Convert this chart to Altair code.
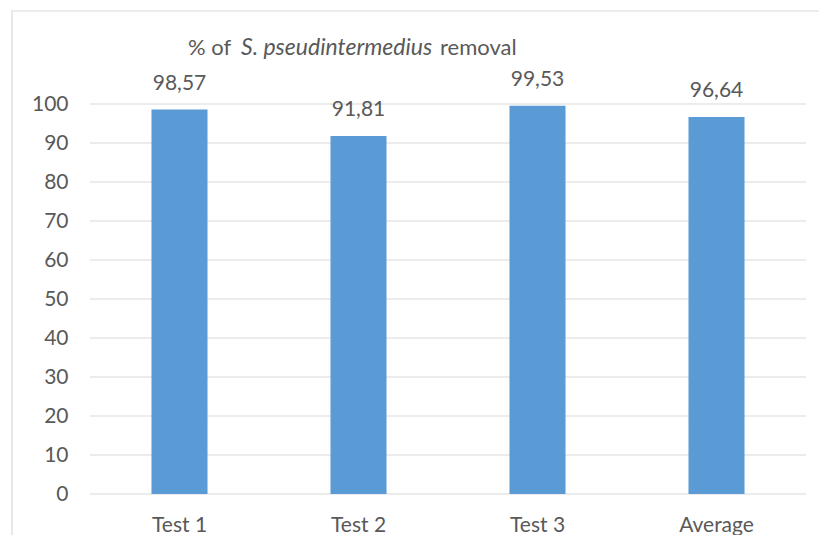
import altair as alt
import pandas as pd

categories = ["Test 1", "Test 2", "Test 3", "Average"]
values = [98.57, 91.81, 99.53, 96.64]
labels = ["98,57", "91,81", "99,53", "96,64"]
y_ticks = [0, 10, 20, 30, 40, 50, 60, 70, 80, 90, 100]

title_parts = ["% of", "S. pseudintermedius", "removal"]

FONT = "Lato"
FS = 21
TFS = 22
TXT = "#595959"
GRID = "#D9D9D9"
BAR = "#5B9BD5"

df = pd.DataFrame({"cat": categories, "val": values, "lab": labels})
grid_df = pd.DataFrame({"val": y_ticks})

y_scale = alt.Scale(domain=[0, 100], nice=False, zero=True)

x_enc = alt.X("cat:N", sort=categories, title=None,
              scale=alt.Scale(paddingInner=0.687, paddingOuter=0.3435),
              axis=alt.Axis(labelAngle=0, domain=False, ticks=False, grid=False,
                            labelPadding=20, labelFontSize=FS, labelFont=FONT,
                            labelColor=TXT))

grid = alt.Chart(grid_df).mark_rule(color=GRID, strokeWidth=1).encode(
    y=alt.Y("val:Q", title=None, scale=y_scale,
            axis=alt.Axis(values=y_ticks, domain=False, ticks=False, grid=False,
                          labelPadding=22, labelOverlap=False,
                          labelFontSize=FS, labelFont=FONT, labelColor=TXT)))

base = alt.Chart(df).encode(x=x_enc, y=alt.Y("val:Q", scale=y_scale, axis=None))
bars = base.mark_bar(color=BAR)
text = base.mark_text(baseline="alphabetic", dy=-20, fontSize=FS, font=FONT,
                      color=TXT).encode(text="lab:N")

border = alt.Chart(pd.DataFrame({"a": [0]})).mark_rect(
    fill=None, stroke=GRID, strokeWidth=1.2).encode(
    x=alt.value(-78), x2=alt.value(760), y=alt.value(-93), y2=alt.value(480))

t1 = alt.Chart(pd.DataFrame({"t": [title_parts[0]]})).mark_text(
    align="left", baseline="alphabetic", fontSize=TFS, font=FONT, color=TXT).encode(
    x=alt.value(98), y=alt.value(-49), text="t:N")
t2 = alt.Chart(pd.DataFrame({"t": [title_parts[1]]})).mark_text(
    align="left", baseline="alphabetic", fontSize=TFS + 1, font=FONT, color=TXT,
    fontStyle="italic").encode(x=alt.value(151), y=alt.value(-49), text="t:N")
t3 = alt.Chart(pd.DataFrame({"t": [title_parts[2]]})).mark_text(
    align="left", baseline="alphabetic", fontSize=TFS, font=FONT, color=TXT).encode(
    x=alt.value(350), y=alt.value(-49), text="t:N")

chart = alt.layer(border, grid, bars, text, t1, t2, t3).resolve_axis(
    y="independent"
).properties(
    width=716, height=390,
    autosize=alt.AutoSizeParams(type="none"),
    padding={"left": 82, "top": 96, "right": 13, "bottom": 41},
).configure_view(stroke=None)

chart.save("out.html", embed_options={"renderer": "svg", "actions": False})
